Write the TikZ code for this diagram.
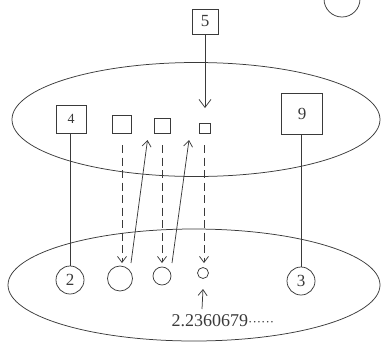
\documentclass[tikz,border=0pt]{standalone}
\usepackage{fontspec}
\setmainfont{Liberation Serif}
\usetikzlibrary{arrows.meta}
\definecolor{ink}{HTML}{3A3A3A}
\tikzset{
  ln/.style={line width=0.75pt, draw=ink},
  sq/.style={draw=ink, line width=0.75pt, inner sep=0pt, text=ink, font=\fontsize{17}{17}\selectfont},
  rd/.style={draw=ink, line width=0.75pt, circle, inner sep=0pt, text=ink, font=\fontsize{17}{17}\selectfont},
  tip/.style={ln, -{Straight Barb[length=6pt,width=9pt,line width=0.75pt]}},
  bigtip/.style={ln, -{Straight Barb[length=8pt,width=12pt,line width=0.75pt]}},
  dsh/.style={tip, dash pattern=on 8pt off 4.5pt},
}
\begin{document}
\begin{tikzpicture}[x=1pt,y=-1pt]
\useasboundingbox (0,0) rectangle (383,341);
% corner circle, cut by the page edge
\draw[ln] (342,-1) circle (18);
% the two ellipses
\draw[ln] (196,119.5) ellipse [x radius=184, y radius=57];
\draw[ln] (194,285) ellipse [x radius=186, y radius=56];
% squares
\node[sq, minimum width=26pt, minimum height=25pt] (b5) at (205,21.5) {5};
\node[sq, minimum width=30pt, minimum height=28pt, font=\fontsize{14}{14}\selectfont] (b4) at (71,119) {4};
\node[sq, minimum width=19pt, minimum height=18pt] (s1) at (122,124) {};
\node[sq, minimum width=16pt, minimum height=15pt] (s2) at (162,125.5) {};
\node[sq, minimum width=11pt, minimum height=10pt] (s3) at (204.5,128) {};
\node[sq, minimum size=41pt] (b9) at (302,113.5) {9};
% circles
\node[rd, minimum size=28pt] (c2) at (70,280) {2};
\node[rd, minimum size=25pt] (c1) at (120,278.5) {};
\node[rd, minimum size=18pt] (cc2) at (162,276) {};
\node[rd, minimum size=11pt] (cc3) at (203,273) {};
\node[rd, minimum size=28pt] (c3) at (301,281) {3};
% value label
\node[text=ink, font=\fontsize{18}{18}\selectfont, anchor=base west, inner sep=0pt] (val) at (171.5,326) {2.2360679{\fontsize{13}{13}\selectfont······}};
\coordinate (v0) at (202,309);
% connectors
\draw[bigtip] (b5.south) -- (205,108);
\draw[ln] (b4.south -| 70,0) -- (c2.north);
\draw[ln] (b9.south -| 301,0) -- (c3.north);
\coordinate (d1) at (122,145);
\coordinate (d2) at (162,145);
\coordinate (d3) at (204,145);
\draw[dsh] (d1) -- (122,263);
\draw[dsh] (d2) -- (162,263);
\draw[dsh] (d3) -- (204,263);
\coordinate (u1) at (131,263);
\coordinate (u2) at (172,263);
\draw[tip] (u1) -- (147.5,140);
\draw[tip] (u2) -- (189,140);
\draw[tip] (v0) -- (cc3.south |- 0,289);
\end{tikzpicture}
\end{document}
